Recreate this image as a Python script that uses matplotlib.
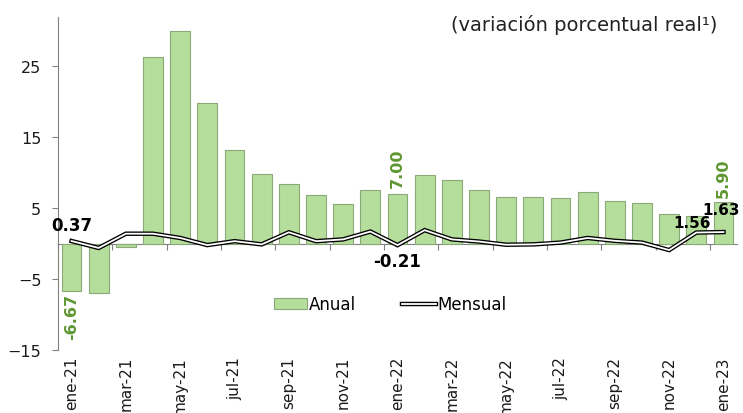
import numpy as np
import matplotlib
matplotlib.use("Agg")
import matplotlib.pyplot as plt
from matplotlib.lines import Line2D
from matplotlib.patches import Patch
import matplotlib.patheffects as pe

# months ene-21 .. ene-23
meses = ["ene-21", "feb-21", "mar-21", "abr-21", "may-21", "jun-21", "jul-21",
         "ago-21", "sep-21", "oct-21", "nov-21", "dic-21", "ene-22", "feb-22",
         "mar-22", "abr-22", "may-22", "jun-22", "jul-22", "ago-22", "sep-22",
         "oct-22", "nov-22", "dic-22", "ene-23"]

anual = [-6.67, -6.9, -0.4, 26.2, 29.9, 19.7, 13.2, 9.8, 8.4, 6.8, 5.6, 7.6,
         7.00, 9.7, 8.9, 7.6, 6.5, 6.5, 6.4, 7.3, 6.0, 5.7, 4.2, 3.9, 5.90]

mensual = [0.37, -0.6, 1.4, 1.4, 0.8, -0.2, 0.35, -0.1, 1.6, 0.35, 0.6, 1.7,
           -0.21, 1.9, 0.6, 0.3, -0.15, -0.1, 0.15, 0.8, 0.4, 0.15, -0.9, 1.56, 1.63]

bar_color = "#b5dd9b"
green_txt = "#5e9732"

plt.rcParams["font.family"] = ["DejaVu Sans"]

fig = plt.figure(figsize=(7.43, 4.14), dpi=100)
ax = fig.add_axes([0.078, 0.151, 0.914, 0.805])

x = np.arange(len(meses))
ymin, ymax = -15, 31.8

ax.bar(x, anual, width=0.73, color=bar_color, edgecolor="#8aa878", linewidth=0.8, zorder=2)

# double line: black outline with white core
ax.plot(x, mensual, color="black", lw=3.2, zorder=3, solid_joinstyle="miter")
ax.plot(x, mensual, color="white", lw=1.3, zorder=4, solid_joinstyle="miter")

ax.set_xlim(-0.5, len(meses) - 0.5)
ax.set_ylim(ymin, ymax)
ax.set_yticks([-15, -5, 5, 15, 25])
ax.tick_params(axis="y", labelsize=11.5, color="#808080", length=4, pad=8,
               labelcolor="#1a1a1a")

ax.set_xticks(x[::2])
ax.set_xticklabels(meses[::2], rotation=90, fontsize=11, color="#1a1a1a")
ax.tick_params(axis="x", length=0, pad=4)

for s in ["top", "right", "bottom"]:
    ax.spines[s].set_visible(False)
ax.spines["left"].set_color("#808080")

# horizontal axis crossing at zero with tick marks at even category boundaries
zero_frac = (0 - ymin) / (ymax - ymin)
sec = ax.secondary_xaxis(zero_frac)
sec.set_xticks(np.arange(-0.5, len(meses), 2))
sec.set_xticklabels([])
sec.tick_params(axis="x", direction="out", length=4, color="#808080")
sec.spines["bottom"].set_color("#808080")
sec.spines["bottom"].set_zorder(1)

# annual labels (green, rotated)
ax.text(0, anual[0] - 0.3, "-6.67", rotation=90, ha="center", va="top",
        color=green_txt, fontsize=11.5, fontweight="bold")
ax.text(12, anual[12] + 0.9, "7.00", rotation=90, ha="center", va="bottom",
        color=green_txt, fontsize=11.5, fontweight="bold")
ax.text(24, anual[24] + 0.7, "5.90", rotation=90, ha="center", va="bottom",
        color=green_txt, fontsize=11.5, fontweight="bold")

# monthly labels
ax.text(0, mensual[0] + 1.0, "0.37", ha="center", va="bottom",
        fontsize=12, fontweight="bold")
ax.text(12, mensual[12] - 1.0, "-0.21", ha="center", va="top",
        fontsize=12, fontweight="bold")
ax.text(22.85, mensual[23] + 0.4, "1.56", ha="center", va="bottom",
        fontsize=11, fontweight="bold")
ax.text(23.9, mensual[24] + 2.15, "1.63", ha="center", va="bottom",
        fontsize=11, fontweight="bold")

fig.text(0.965, 0.94, "(variación porcentual real\u00b9)", ha="right", va="center",
         fontsize=14, color="#222222")

handles = [Patch(facecolor=bar_color, edgecolor="#8aa878", linewidth=0.8),
           Line2D([0], [0], color="black", lw=3.2,
                  path_effects=[pe.Stroke(linewidth=3.2, foreground="black"),
                                pe.Stroke(linewidth=1.3, foreground="white")])]
leg = fig.legend(handles, ["Anual", "Mensual"], loc="center",
                 bbox_to_anchor=(0.525, 0.263), ncol=2, frameon=False,
                 fontsize=12, handlelength=2.0, handletextpad=0.1,
                 columnspacing=2.8, handleheight=0.6)

fig.savefig("out.png", dpi=100)
